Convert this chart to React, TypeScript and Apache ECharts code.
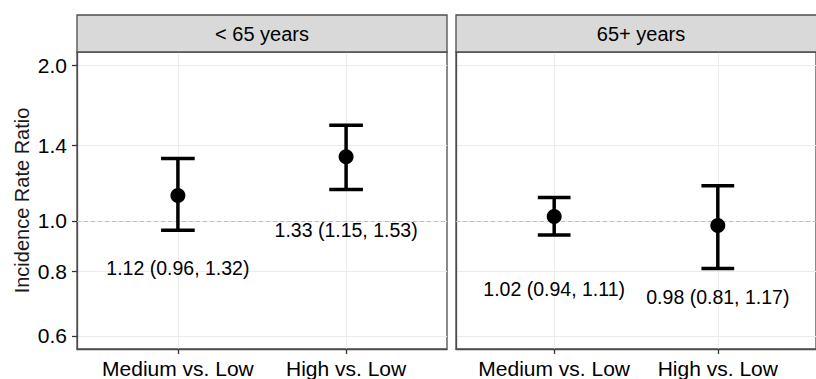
import React, { useEffect, useRef } from "react";
import * as echarts from "echarts";

const panels = ["< 65 years", "65+ years"];
const comparisons = ["Medium vs. Low", "High vs. Low"];

const under65Estimate = [1.12, 1.33];
const under65Lower = [0.96, 1.15];
const under65Upper = [1.32, 1.53];
const under65LabelAt = [0.812, 0.962];

const over65Estimate = [1.02, 0.98];
const over65Lower = [0.94, 0.81];
const over65Upper = [1.11, 1.17];
const over65LabelAt = [0.74, 0.712];

const yTicks = [0.6, 0.8, 1.0, 1.4, 2.0];
const yMin = 0.566;
const yMax = 2.12;
const referenceValue = 1.0;
const xPositions = [0, 1];

const FONT = '"Liberation Sans", Arial, Helvetica, sans-serif';
const ln = Math.log;

const panelData = [
  { est: under65Estimate, lo: under65Lower, hi: under65Upper, at: under65LabelAt },
  { est: over65Estimate, lo: over65Lower, hi: over65Upper, at: over65LabelAt },
];

const gridDefs = [
  { left: 77, top: 52, width: 370, height: 300 },
  { left: 456, top: 52, width: 370, height: 300 },
];

const fmt = (v: number) => v.toFixed(2);

export default function App() {
  const ref = useRef<HTMLDivElement>(null);
  useEffect(() => {
    document.body.style.margin = "0";
    const chart = echarts.init(ref.current!, null, { renderer: "svg" });
    const border = "#4d4d4d";
    const gridColor = "#ebebeb";

    const series: any[] = [];
    panelData.forEach((pd, i) => {
      series.push({
        type: "custom",
        xAxisIndex: i,
        yAxisIndex: i,
        z: 3,
        data: xPositions.map((x, j) => [x, ln(pd.lo[j]), ln(pd.hi[j])]),
        encode: { x: 0, y: [1, 2] },
        renderItem: (params: any, api: any) => {
          const x = api.value(0);
          const pLo = api.coord([x, api.value(1)]);
          const pHi = api.coord([x, api.value(2)]);
          const half = api.size([0.2, 0])[0] / 2;
          const style = { stroke: "#000", lineWidth: 3.5, fill: "none" };
          return {
            type: "group",
            children: [
              { type: "line", shape: { x1: pLo[0], y1: pLo[1], x2: pHi[0], y2: pHi[1] }, style },
              { type: "line", shape: { x1: pLo[0] - half, y1: pLo[1], x2: pLo[0] + half, y2: pLo[1] }, style },
              { type: "line", shape: { x1: pHi[0] - half, y1: pHi[1], x2: pHi[0] + half, y2: pHi[1] }, style },
            ],
          };
        },
        markLine: {
          silent: true,
          symbol: ["none", "none"],
          label: { show: false },
          lineStyle: { color: "#bdbdbd", type: [4, 3], width: 1 },
          data: [{ yAxis: ln(referenceValue) }],
          z: 1,
        },
      });
      series.push({
        type: "scatter",
        xAxisIndex: i,
        yAxisIndex: i,
        z: 4,
        symbolSize: 15,
        itemStyle: { color: "#000", opacity: 1 },
        data: xPositions.map((x, j) => [x, ln(pd.est[j])]),
      });
      series.push({
        type: "custom",
        xAxisIndex: i,
        yAxisIndex: i,
        z: 5,
        encode: { x: 0, y: 1 },
        data: xPositions.map((x, j) => [x, ln(pd.at[j])]),
        renderItem: (params: any, api: any) => {
          const p = api.coord([api.value(0), api.value(1)]);
          const item = panelData[i];
          const j = params.dataIndex;
          return {
            type: "text",
            x: p[0],
            y: p[1],
            style: {
              text: `${fmt(item.est[j])} (${fmt(item.lo[j])}, ${fmt(item.hi[j])})`,
              fontSize: 19.5,
              fontFamily: FONT,
              fill: "#000",
              align: "center",
              verticalAlign: "middle",
            },
          };
        },
      });
    });

    chart.setOption({
      animation: false,
      backgroundColor: "#fff",
      textStyle: { fontFamily: FONT },
      grid: gridDefs.map((g) => ({
        ...g,
        show: true,
        borderColor: border,
        borderWidth: 1.3,
        backgroundColor: "#fff",
      })),
      xAxis: gridDefs.map((_, i) => ({
        type: "value",
        gridIndex: i,
        min: -0.6,
        max: 1.6,
        position: "bottom",
        axisLine: { show: true, onZero: false, lineStyle: { color: border, width: 1.3 } },
        axisTick: {
          show: true,
          customValues: xPositions,
          length: 5,
          lineStyle: { color: "#333", width: 1.3 },
        },
        axisLabel: {
          customValues: xPositions,
          formatter: (v: number) => comparisons[Math.round(v)],
          fontSize: 21,
          color: "#000",
          margin: 9,
          fontFamily: FONT,
        },
        splitLine: { show: true, lineStyle: { color: gridColor, width: 1 } },
      })),
      yAxis: gridDefs.map((_, i) => ({
        type: "value",
        gridIndex: i,
        min: ln(yMin),
        max: ln(yMax),
        position: "left",
        axisLine: { show: true, onZero: false, lineStyle: { color: border, width: 1.3 } },
        axisTick: {
          show: i === 0,
          customValues: yTicks.map(ln),
          length: 5,
          lineStyle: { color: "#333", width: 1.3 },
        },
        axisLabel: {
          show: i === 0,
          customValues: yTicks.map(ln),
          formatter: (v: number) => Math.exp(v).toFixed(1),
          fontSize: 21,
          color: "#000",
          margin: 10,
          fontFamily: FONT,
        },
        splitLine: { show: true, lineStyle: { color: gridColor, width: 1 } },
        name: i === 0 ? "Incidence Rate Ratio" : "",
        nameLocation: "middle",
        nameGap: 45,
        nameMoveOverlap: false,
        nameTextStyle: { fontSize: 20, color: "#1a1a1a", fontFamily: FONT },
      })),
      graphic: panels.flatMap((p, i) => [
        {
          type: "rect",
          shape: { x: gridDefs[i].left, y: 15, width: gridDefs[i].width, height: 37 },
          style: { fill: "#d9d9d9", stroke: border, lineWidth: 1.3 },
          z: 10,
        },
        {
          type: "text",
          x: gridDefs[i].left + gridDefs[i].width / 2,
          y: 34,
          style: {
            text: p,
            fontSize: 20,
            fontFamily: FONT,
            fill: "#000",
            align: "center",
            verticalAlign: "middle",
          },
          z: 11,
        },
      ]),
      series,
    });
    return () => chart.dispose();
  }, []);
  return <div ref={ref} style={{ width: 816, height: 379 }} />;
}
